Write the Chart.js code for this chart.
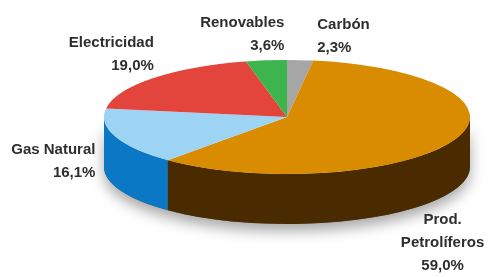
<!DOCTYPE html>
<html>
<head>
<meta charset="utf-8">
<script src="https://cdn.jsdelivr.net/npm/chart.js@4"></script>
<style>
  html, body { margin: 0; padding: 0; background: #fff; }
  canvas { display: block; }
</style>
</head>
<body>
<canvas id="pie" width="488" height="277"></canvas>
<script>
// data, clockwise from the top
const labels     = ["Carbón", "Prod. Petrolíferos", "Gas Natural", "Electricidad", "Renovables"];
const labelLines = [["Carbón"], ["Prod.", "Petrolíferos"], ["Gas Natural"], ["Electricidad"], ["Renovables"]];
const values     = [2.3, 59.0, 16.1, 19.0, 3.6];
const pctLabels  = ["2,3%", "59,0%", "16,1%", "19,0%", "3,6%"];

const topColors  = ["#a6a6a6", "#d98c00", "#9dd4f4", "#e3443b", "#3db54c"];
const sideColors = ["#6e6e6e", "#4a2b00", "#0a78c4", "#9c2520", "#217a2c"];

// where the flattened pie sits on screen
const CX = 287, CY = 117, RX = 183, RY = 57, DEPTH = 50;

// label placement relative to the slice's rim point
const labelPos = [
  { dx: 17,  dy: -35, align: "left" },
  { dx: -11, dy: 79,  align: "center" },
  { dx: -20, dy: 13,  align: "right" },
  { dx: 1,   dy: -35, align: "right" },
  { dx: 18,  dy: -38, align: "right" },
];

function pieGeom(chart) {
  const meta = chart.getDatasetMeta(0);
  const p = meta.data[0].getProps(["x", "y", "outerRadius"]);
  return { meta, x: p.x, y: p.y, R: p.outerRadius };
}

const pie3d = {
  id: "pie3d",
  beforeDatasetsDraw(chart) {
    const ctx = chart.ctx;
    const { meta, x, y, R } = pieGeom(chart);
    ctx.save();
    ctx.translate(CX, CY);
    ctx.scale(RX / R, RY / R);
    ctx.translate(-x, -y);
    const dt = DEPTH * R / RY;

    // soft shadow under the cake
    ctx.save();
    ctx.shadowColor = "rgba(0,0,0,0.35)";
    ctx.shadowBlur = 14;
    ctx.shadowOffsetY = 7;
    ctx.fillStyle = "#555";
    ctx.beginPath();
    ctx.arc(x, y, R, 0, Math.PI);
    ctx.arc(x, y + dt, R, Math.PI, 0, true);
    ctx.closePath();
    ctx.fill();
    ctx.restore();

    // side walls (front half only)
    meta.data.forEach((arc, i) => {
      const p = arc.getProps(["startAngle", "endAngle"]);
      const a1 = Math.max(p.startAngle, 0);
      const a2 = Math.min(p.endAngle, Math.PI);
      if (a2 <= a1) return;
      ctx.beginPath();
      ctx.arc(x, y, R, a1, a2);
      ctx.arc(x, y + dt, R, a2, a1, true);
      ctx.closePath();
      ctx.fillStyle = sideColors[i];
      ctx.fill();
    });
  },
  afterDatasetsDraw(chart) {
    chart.ctx.restore();
  },
  afterDraw(chart) {
    const ctx = chart.ctx;
    const { meta } = pieGeom(chart);
    ctx.save();
    ctx.font = "bold 15px 'Liberation Sans', Arial, sans-serif";
    ctx.fillStyle = "#2e2e2e";
    ctx.textBaseline = "middle";
    meta.data.forEach((arc, i) => {
      const p = arc.getProps(["startAngle", "endAngle"]);
      const m = (p.startAngle + p.endAngle) / 2;
      const ax = CX + RX * Math.cos(m);
      const ay = CY + RY * Math.sin(m);
      const lp = labelPos[i];
      ctx.textAlign = lp.align;
      const lines = labelLines[i].concat([pctLabels[i]]);
      lines.forEach((t, k) => ctx.fillText(t, ax + lp.dx, ay + lp.dy + k * 23));
    });
    ctx.restore();
  }
};

new Chart(document.getElementById("pie"), {
  type: "pie",
  data: {
    labels: labels,
    datasets: [{
      data: values,
      backgroundColor: topColors,
      borderWidth: 0,
      hoverOffset: 0,
      clip: false,
    }]
  },
  options: {
    responsive: false,
    animation: false,
    layout: { padding: 0 },
    plugins: { legend: { display: false }, tooltip: { enabled: false } },
  },
  plugins: [pie3d],
});
</script>
</body>
</html>
